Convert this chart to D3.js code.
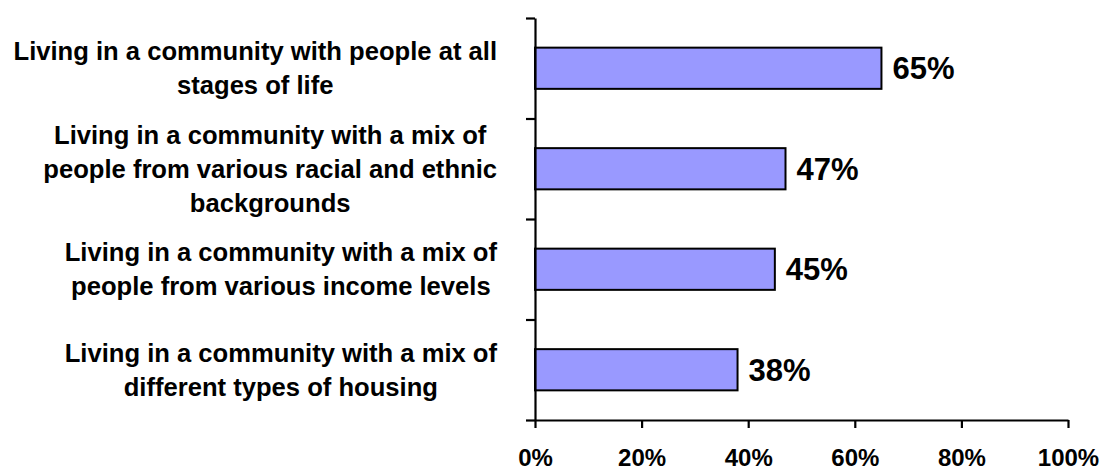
<!DOCTYPE html>
<html>
<head>
<meta charset="utf-8">
<script src="https://cdn.jsdelivr.net/npm/d3@7"></script>
<style>
  html, body { margin: 0; padding: 0; background: #fff; }
  svg { display: block; font-family: Arial, "Liberation Sans", sans-serif; }
</style>
</head>
<body>
<svg id="chart" width="1105" height="470"></svg>
<script>
const categories = [
  "Living in a community with people at all|stages of life",
  "Living in a community with a mix of|people from various racial and ethnic|backgrounds",
  "Living in a community with a mix of|people from various income levels",
  "Living in a community with a mix of|different types of housing"
];
const values = [0.65, 0.47, 0.45, 0.38];
const xTickValues = [0, 0.2, 0.4, 0.6, 0.8, 1.0];

(function () {
const svg = d3.select("#chart");
const mLeft = 535, mRight = 1068, mTop = 18, mBottom = 420;

const x = d3.scaleLinear().domain([0, 1]).range([mLeft, mRight]);
const y = d3.scaleBand().domain(categories).range([mTop, mBottom])
  .paddingInner(0.59).paddingOuter(0.295);
const yTicks = d3.scaleLinear().domain([0, categories.length]).range([mTop, mBottom]);

// bars
svg.append("g").selectAll("rect").data(categories).join("rect")
  .attr("x", x(0))
  .attr("y", d => y(d))
  .attr("width", (d, i) => x(values[i]) - x(0))
  .attr("height", y.bandwidth())
  .attr("fill", "#9999FF")
  .attr("stroke", "#000")
  .attr("stroke-width", 2);

// value labels
svg.append("g").selectAll("text").data(categories).join("text")
  .attr("x", (d, i) => x(values[i]) + 11)
  .attr("y", d => y(d) + y.bandwidth() / 2)
  .attr("dy", "0.36em")
  .attr("font-size", 31)
  .attr("font-weight", "bold")
  .attr("fill", "#000")
  .text((d, i) => d3.format(".0%")(values[i]));

// y axis
const yAxis = svg.append("g").attr("transform", `translate(${mLeft},0)`)
  .call(d3.axisLeft(yTicks).ticks(categories.length).tickFormat("").tickSize(9).tickSizeOuter(0));
yAxis.select(".domain").attr("stroke", "#000").attr("stroke-width", 2.2);
yAxis.selectAll(".tick line").attr("stroke", "#000").attr("stroke-width", 2.2);

// x axis
const xAxis = svg.append("g").attr("transform", `translate(0,${mBottom})`)
  .call(d3.axisBottom(x).tickValues(xTickValues).tickFormat(d3.format(".0%")).tickSize(8).tickSizeOuter(0));
xAxis.select(".domain").attr("stroke", "#000").attr("stroke-width", 2.2);
xAxis.selectAll(".tick line").attr("stroke", "#000").attr("stroke-width", 2.2);
xAxis.selectAll(".tick text")
  .attr("y", 46).attr("dy", null)
  .attr("font-size", 24).attr("font-weight", "bold")
  .attr("font-family", "Arial, 'Liberation Sans', sans-serif")
  .attr("fill", "#000");

// category labels
const labelRight = 497;
const lineH = 34;
const lg = svg.append("g");
categories.forEach(cat => {
  const lines = cat.split("|");
  const cy = y(cat) + y.bandwidth() / 2;
  const t = lg.append("text")
    .attr("font-size", 25.6)
    .attr("font-weight", "bold")
    .attr("fill", "#000")
    .attr("text-anchor", "middle");
  const spans = lines.map((ln, i) => t.append("tspan")
    .attr("x", 0)
    .attr("y", cy + (i - (lines.length - 1) / 2) * lineH)
    .attr("dy", "0.35em")
    .text(ln));
  const maxW = d3.max(spans, s => s.node().getComputedTextLength());
  const cx = labelRight - maxW / 2;
  spans.forEach(s => s.attr("x", cx));
});
})();
</script>
</body>
</html>
